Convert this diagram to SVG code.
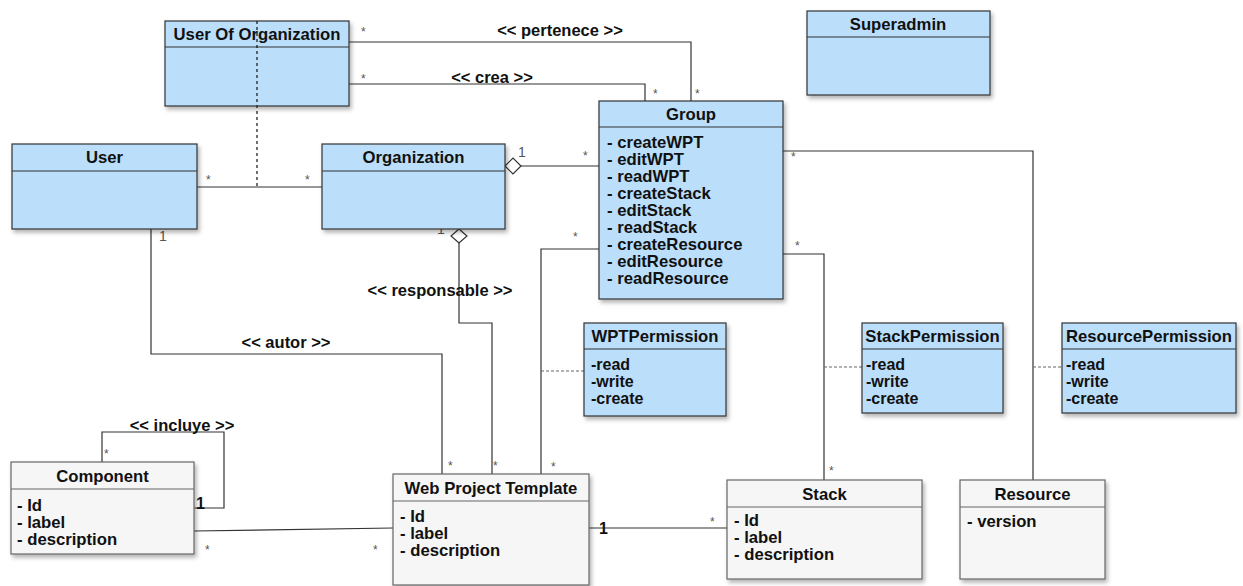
<svg xmlns="http://www.w3.org/2000/svg" width="1243" height="586" viewBox="0 0 1243 586">
  <defs>
    <filter id="shadow" x="-10%" y="-10%" width="130%" height="130%">
      <feDropShadow dx="2" dy="3" stdDeviation="2" flood-color="#000" flood-opacity="0.3"/>
    </filter>
  </defs>
  <style>
    text { font-family: "Liberation Sans", Arial, sans-serif; fill: #111; }
    .blue { fill: #bbdefb; stroke: #333; stroke-width: 1.2; filter: url(#shadow); }
    .gray { fill: #f6f6f6; stroke: #666; stroke-width: 1.2; filter: url(#shadow); }
    .sep { stroke: #333; stroke-width: 1.2; }
    .sepg { stroke: #666; stroke-width: 1.2; }
    .title { font-size: 16.7px; font-weight: bold; text-anchor: middle; }
    .attr { font-size: 16.7px; font-weight: bold; }
    .perm { font-size: 16px; font-weight: bold; }
    .edge { fill: none; stroke: #333; stroke-width: 1.2; }
    .dash { fill: none; stroke: #111; stroke-width: 1.2; stroke-dasharray: 3 3; }
    .dotted { fill: none; stroke: #666; stroke-width: 1.2; stroke-dasharray: 3 2; }
    .diamond { fill: #fff; stroke: #333; stroke-width: 1.2; }
    .label { font-size: 16.5px; font-weight: bold; text-anchor: middle; }
    .star { font-size: 12px; fill: #555; }
    .one { font-size: 14px; fill: #555; }
    .oneb { font-size: 16px; font-weight: bold; }
  </style>

  <!-- connectors -->
  <g id="connectors">
    <polyline class="edge" points="349,42 691,42 691,101"/>
    <polyline class="edge" points="349,84 645,84 645,101"/>
    <line class="dash" x1="257" y1="21" x2="257" y2="186"/>
    <line class="edge" x1="197" y1="187" x2="322" y2="187"/>
    <line class="edge" x1="521" y1="166" x2="599" y2="166"/>
    <polygon class="diamond" points="505,166 513,158 521,166 513,174"/>
    <polyline class="edge" points="459,243 459,323 492,323 492,474"/>
    <polygon class="diamond" points="459,229 467,236 459,243 451,236"/>
    <polyline class="edge" points="151,229 151,354 442,354 442,474"/>
    <polyline class="edge" points="599,249 541,249 541,474"/>
    <polyline class="edge" points="783,254 824,254 824,480"/>
    <polyline class="edge" points="783,151 1033,151 1033,480"/>
    <polyline class="edge" points="102,462 102,432 224,432 224,508 194,508"/>
    <line class="edge" x1="194" y1="531" x2="393" y2="528"/>
    <line class="edge" x1="589" y1="528" x2="727" y2="528"/>
    <line class="dotted" x1="541" y1="371" x2="584" y2="371"/>
    <line class="dotted" x1="824" y1="367" x2="862" y2="367"/>
    <line class="dotted" x1="1033" y1="367" x2="1062" y2="367"/>

    <!-- association labels -->
    <text class="label" x="560" y="36">&lt;&lt; pertenece &gt;&gt;</text>
    <text class="label" x="492" y="83">&lt;&lt; crea &gt;&gt;</text>
    <text class="label" x="440" y="296">&lt;&lt; responsable &gt;&gt;</text>
    <text class="label" x="286" y="348">&lt;&lt; autor &gt;&gt;</text>
    <text class="label" x="182" y="431">&lt;&lt; incluye &gt;&gt;</text>

    <!-- multiplicities -->
    <text class="star" x="361" y="36">*</text>
    <text class="star" x="361" y="83">*</text>
    <text class="star" x="653" y="98">*</text>
    <text class="star" x="695" y="98">*</text>
    <text class="star" x="791" y="161">*</text>
    <text class="star" x="795" y="250">*</text>
    <text class="star" x="583" y="160">*</text>
    <text class="star" x="573" y="241">*</text>
    <text class="star" x="206" y="184">*</text>
    <text class="star" x="305" y="184">*</text>
    <text class="one" x="159" y="241">1</text>
    <text class="one" x="518" y="157">1</text>
    <text class="one" x="437" y="234">1</text>
    <text class="star" x="448" y="470">*</text>
    <text class="star" x="493" y="470">*</text>
    <text class="star" x="551" y="471">*</text>
    <text class="star" x="829" y="475">*</text>
    <text class="oneb" x="599" y="534">1</text>
    <text class="star" x="710" y="526">*</text>
    <text class="star" x="104" y="458">*</text>
    <text class="oneb" x="196" y="509">1</text>
    <text class="star" x="205" y="554">*</text>
    <text class="star" x="373" y="554">*</text>
  </g>

  <!-- classes -->
  <g id="user-of-organization">
    <rect class="blue" x="165" y="21" width="184" height="85"/>
    <line class="sep" x1="165" y1="47" x2="349" y2="47"/>
    <text class="title" x="257" y="40">User Of Organization</text>
  </g>
  <line class="dash" x1="257" y1="21" x2="257" y2="106"/>

  <g id="superadmin">
    <rect class="blue" x="807" y="11" width="183" height="84"/>
    <line class="sep" x1="807" y1="37" x2="990" y2="37"/>
    <text class="title" x="898" y="30">Superadmin</text>
  </g>

  <g id="group">
    <rect class="blue" x="599" y="101" width="184" height="198"/>
    <line class="sep" x1="599" y1="127" x2="783" y2="127"/>
    <text class="title" x="691" y="120">Group</text>
    <text class="attr" x="607" y="148">- createWPT</text>
    <text class="attr" x="607" y="165">- editWPT</text>
    <text class="attr" x="607" y="182">- readWPT</text>
    <text class="attr" x="607" y="199">- createStack</text>
    <text class="attr" x="607" y="216">- editStack</text>
    <text class="attr" x="607" y="233">- readStack</text>
    <text class="attr" x="607" y="250">- createResource</text>
    <text class="attr" x="607" y="267">- editResource</text>
    <text class="attr" x="607" y="284">- readResource</text>
  </g>

  <g id="user">
    <rect class="blue" x="12" y="144" width="185" height="85"/>
    <line class="sep" x1="12" y1="171" x2="197" y2="171"/>
    <text class="title" x="104.5" y="163">User</text>
  </g>

  <g id="organization">
    <rect class="blue" x="322" y="144" width="183" height="85"/>
    <line class="sep" x1="322" y1="171" x2="505" y2="171"/>
    <text class="title" x="413.5" y="163">Organization</text>
  </g>

  <g id="wpt-permission">
    <rect class="blue" x="584" y="323" width="142" height="93"/>
    <line class="sep" x1="584" y1="349" x2="726" y2="349"/>
    <text class="title" x="655" y="342">WPTPermission</text>
    <text class="perm" x="591" y="370">-read</text>
    <text class="perm" x="591" y="387">-write</text>
    <text class="perm" x="591" y="404">-create</text>
  </g>

  <g id="stack-permission">
    <rect class="blue" x="862" y="323" width="141" height="90"/>
    <line class="sep" x1="862" y1="349" x2="1003" y2="349"/>
    <text class="title" x="932.5" y="342">StackPermission</text>
    <text class="perm" x="866" y="370">-read</text>
    <text class="perm" x="866" y="387">-write</text>
    <text class="perm" x="866" y="404">-create</text>
  </g>

  <g id="resource-permission">
    <rect class="blue" x="1062" y="323" width="174" height="90"/>
    <line class="sep" x1="1062" y1="349" x2="1236" y2="349"/>
    <text class="title" x="1149" y="342">ResourcePermission</text>
    <text class="perm" x="1066" y="370">-read</text>
    <text class="perm" x="1066" y="387">-write</text>
    <text class="perm" x="1066" y="404">-create</text>
  </g>

  <g id="component">
    <rect class="gray" x="11" y="462" width="183" height="92"/>
    <line class="sepg" x1="11" y1="489" x2="194" y2="489"/>
    <text class="title" x="102.5" y="482">Component</text>
    <text class="attr" x="17" y="511">- Id</text>
    <text class="attr" x="17" y="528">- label</text>
    <text class="attr" x="17" y="545">- description</text>
  </g>

  <g id="web-project-template">
    <rect class="gray" x="393" y="474" width="196" height="111"/>
    <line class="sepg" x1="393" y1="501" x2="589" y2="501"/>
    <text class="title" x="491" y="494">Web Project Template</text>
    <text class="attr" x="400" y="522">- Id</text>
    <text class="attr" x="400" y="539">- label</text>
    <text class="attr" x="400" y="556">- description</text>
  </g>

  <g id="stack">
    <rect class="gray" x="727" y="480" width="195" height="99"/>
    <line class="sepg" x1="727" y1="507" x2="922" y2="507"/>
    <text class="title" x="824.5" y="500">Stack</text>
    <text class="attr" x="734" y="526">- Id</text>
    <text class="attr" x="734" y="543">- label</text>
    <text class="attr" x="734" y="560">- description</text>
  </g>

  <g id="resource">
    <rect class="gray" x="960" y="480" width="145" height="99"/>
    <line class="sepg" x1="960" y1="507" x2="1105" y2="507"/>
    <text class="title" x="1032.5" y="500">Resource</text>
    <text class="attr" x="967" y="527">- version</text>
  </g>
</svg>
